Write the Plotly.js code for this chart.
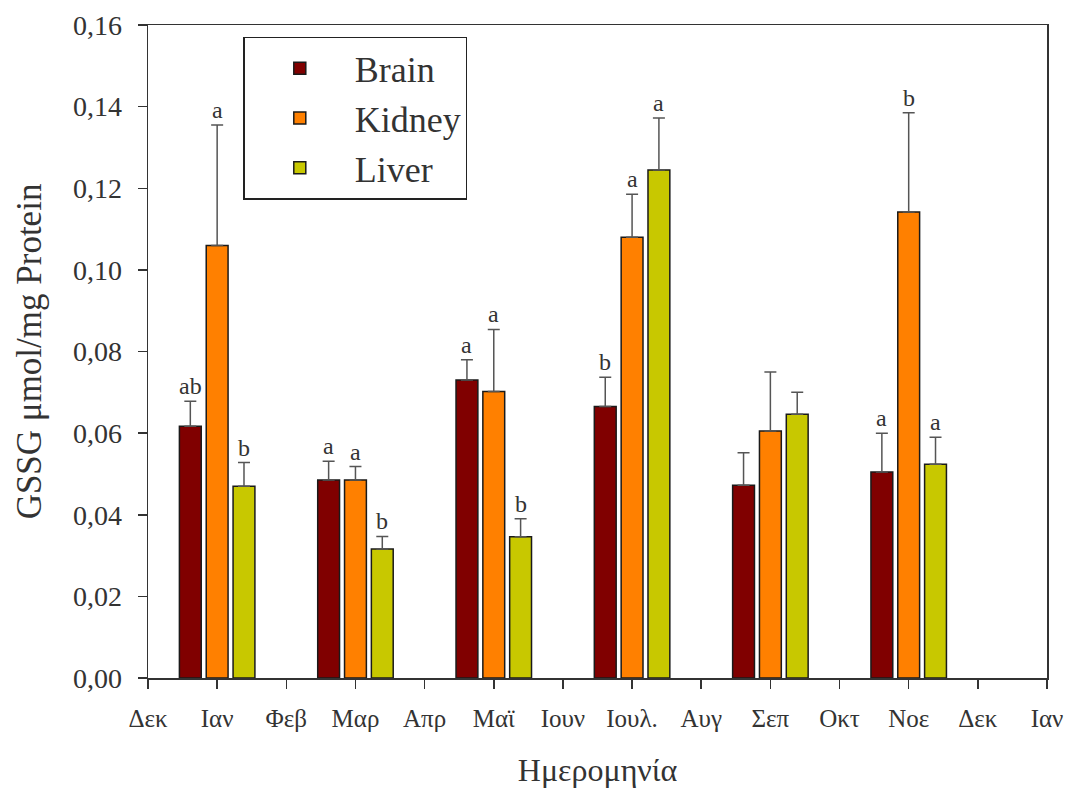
<!DOCTYPE html>
<html>
<head>
<meta charset="utf-8">
<script src="https://cdn.plot.ly/plotly-3.0.1.min.js"></script>
<style>html,body{margin:0;padding:0;background:#fff;}#chart{width:1067px;height:798px;}</style>
</head>
<body>
<div id="chart"></div>
<script>
// Month tick labels (positions 0..13)
const tickLabels = ["Δεκ","Ιαν","Φεβ","Μαρ","Απρ","Μαϊ","Ιουν","Ιουλ.","Αυγ","Σεπ","Οκτ","Νοε","Δεκ","Ιαν"];
// Sampling months (index into tickLabels)
const sampleMonths = [1, 3, 5, 7, 9, 11];

const brain = [0.0617, 0.0485, 0.0730, 0.0665, 0.0472, 0.0505];
const brainErr = [0.0061, 0.0046, 0.0050, 0.0072, 0.0080, 0.0095];
const brainLetters = ["ab", "a", "a", "b", "", "a"];

const kidney = [0.1060, 0.0485, 0.0702, 0.1080, 0.0605, 0.1142];
const kidneyErr = [0.0295, 0.0033, 0.0152, 0.0105, 0.0145, 0.0243];
const kidneyLetters = ["a", "a", "a", "a", "", "b"];

const liver = [0.0470, 0.0316, 0.0346, 0.1245, 0.0646, 0.0524];
const liverErr = [0.0058, 0.0031, 0.0044, 0.0127, 0.0054, 0.0066];
const liverLetters = ["b", "b", "b", "a", "", "a"];

const seriesNames = ["Brain", "Kidney", "Liver"];
const colors = ["#800000", "#ff8000", "#c8c800"];
const values = [brain, kidney, liver];
const errs = [brainErr, kidneyErr, liverErr];
const letters = [brainLetters, kidneyLetters, liverLetters];

const serif = "Liberation Serif";
const textColor = "#333333";

const traces = values.map((v, i) => ({
  type: "bar",
  name: seriesNames[i],
  x: sampleMonths,
  y: v,
  marker: { color: colors[i], line: { color: "#1a1a1a", width: 1.5 } },
  error_y: {
    type: "data", symmetric: false, array: errs[i],
    arrayminus: v.map(() => 0),
    color: "#555555", thickness: 1.5, width: 6
  }
}));

// letter annotations above error caps; group offsets match bar layout
const bargap = 0.418, bargroupgap = 0.186;
const minDiff = 2;
const pitch = minDiff * (1 - bargap) / 3;
const annotations = [];
values.forEach((v, i) => {
  v.forEach((val, j) => {
    if (!letters[i][j]) return;
    annotations.push({
      x: sampleMonths[j] + (i - 1) * pitch,
      y: val + errs[i][j],
      xref: "x", yref: "y",
      text: letters[i][j],
      showarrow: false,
      yanchor: "bottom",
      yshift: 0,
      font: { family: serif, size: 24, color: textColor }
    });
  });
});

const layout = {
  width: 1067, height: 798,
  margin: { l: 148, r: 20, t: 25, b: 120 },
  paper_bgcolor: "#ffffff",
  plot_bgcolor: "#ffffff",
  barmode: "group",
  bargap: bargap,
  bargroupgap: bargroupgap,
  separators: ", ",
  showlegend: true,
  legend: {
    x: 0.106, y: 0.982, xanchor: "left", yanchor: "top",
    bordercolor: "#222222", borderwidth: 1.5,
    bgcolor: "#ffffff",
    font: { family: serif, size: 36, color: textColor },
    itemwidth: 100,
    tracegroupgap: 6
  },
  xaxis: {
    range: [0, 13],
    tickvals: tickLabels.map((_, i) => i),
    ticktext: tickLabels,
    ticks: "outside", ticklen: 9, tickwidth: 1.5, tickcolor: "#333",
    ticklabeloverflow: "allow",
    ticklabelstandoff: 8,
    showline: true, linecolor: "#333", linewidth: 1.5, mirror: true,
    showgrid: false, zeroline: false,
    tickfont: { family: serif, size: 25, color: textColor },
    title: { text: "Ημερομηνία", font: { family: serif, size: 32, color: textColor }, standoff: 28 }
  },
  yaxis: {
    range: [0, 0.16],
    dtick: 0.02, tickformat: ".2f",
    ticks: "outside", ticklen: 9, tickwidth: 1.5, tickcolor: "#333",
    ticklabelstandoff: 10,
    showline: true, linecolor: "#333", linewidth: 1.5, mirror: true,
    showgrid: false, zeroline: false,
    tickfont: { family: serif, size: 28, color: textColor },
    title: { text: "GSSG μmol/mg Protein", font: { family: serif, size: 35, color: textColor }, standoff: 20 }
  },
  annotations: annotations
};

Plotly.newPlot("chart", traces, layout, { displayModeBar: false, staticPlot: true });
</script>
</body>
</html>
